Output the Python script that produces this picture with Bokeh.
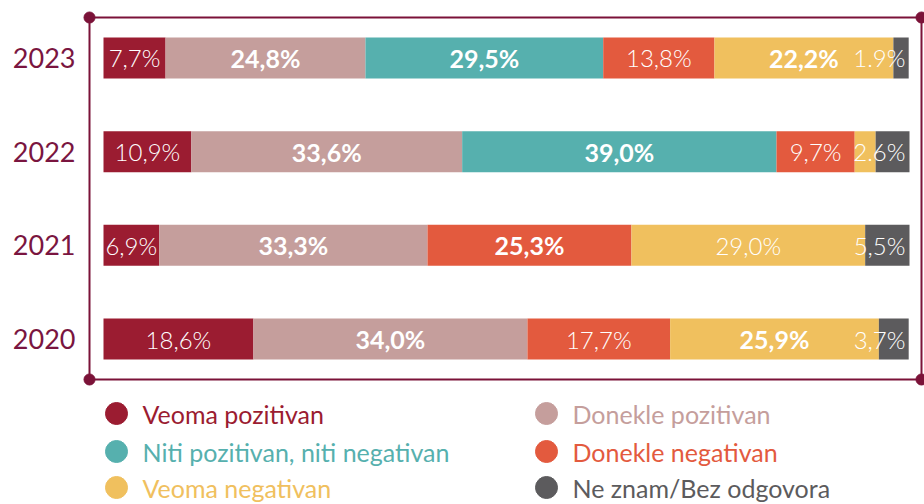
import numpy as np
from bokeh.plotting import figure
from bokeh.models import ColumnDataSource
from bokeh.core.properties import value
from bokeh.embed import file_html
from bokeh.resources import INLINE

# ---------------- data ----------------
years = ["2020", "2021", "2022", "2023"]
categories = ["Veoma pozitivan", "Donekle pozitivan", "Niti pozitivan, niti negativan",
              "Donekle negativan", "Veoma negativan", "Ne znam/Bez odgovora"]
veoma_pozitivan = [18.6, 6.9, 10.9, 7.7]
donekle_pozitivan = [34.0, 33.3, 33.6, 24.8]
niti = [0.0, 0.0, 39.0, 29.5]
donekle_negativan = [17.7, 25.3, 9.7, 13.8]
veoma_negativan = [25.9, 29.0, 2.6, 22.2]
ne_znam = [3.7, 5.5, 4.2, 1.9]
labels = {
    "2023": ["7,7%", "24,8%", "29,5%", "13,8%", "22,2%", "1.9%"],
    "2022": ["10,9%", "33,6%", "39,0%", "9,7%", "2.6%", ""],
    "2021": ["6,9%", "33,3%", "", "25,3%", "29,0%", "5,5%"],
    "2020": ["18,6%", "34,0%", "", "17,7%", "25,9%", "3,7%"],
}

# ---------------- styles ----------------
colors = ["#9b1c31", "#c59e9c", "#56b0ae", "#e35a3e", "#f0c05e", "#5c5b5d"]
bold = {
    "2023": [False, True, True, False, True, False],
    "2022": [False, True, True, False, False, False],
    "2021": [False, True, False, True, False, False],
    "2020": [False, True, False, False, True, False],
}
frame_col = "#7b1238"
FONT = "Lato"
FONT_LIGHT = "Lato Light"

W, H = 924, 504
X0, PXU = 103.0, 8.06          # screen x of 0 %, px per %
Y0, PYU = 165.5, 93.67        # screen y (from bottom) of first row, px per row

def dx(px):
    return (px - X0) / PXU

def dy(py_top):
    return ((H - py_top) - Y0) / PYU

p = figure(width=W, height=H, output_backend="svg", toolbar_location=None,
           x_range=(dx(0), dx(W)), y_range=(dy(H), dy(0)),
           min_border=0, outline_line_color=None)
p.axis.visible = False
p.grid.visible = False
p.background_fill_color = "white"
p.border_fill_color = "white"

series = [veoma_pozitivan, donekle_pozitivan, niti, donekle_negativan, veoma_negativan, ne_znam]
vals = np.array(series)            # (6, 4)
rights = np.cumsum(vals, axis=0)
lefts = rights - vals
ypos = np.arange(len(years))

# frame
fx0, fx1 = dx(89), dx(921)
fy0, fy1 = dy(379), dy(17)
for xs, ys in [([fx0, fx1], [fy1, fy1]), ([fx0, fx1], [fy0, fy0]),
               ([fx0, fx0], [fy0, fy1]), ([fx1, fx1], [fy0, fy1])]:
    p.line(xs, ys, line_color=frame_col, line_width=2)
p.scatter([fx0, fx1, fx0, fx1], [fy1, fy1, fy0, fy0], size=11, color=frame_col)

bar_h = 41 / PYU
for k in range(len(categories)):
    src = ColumnDataSource(dict(y=ypos, left=lefts[k], right=rights[k]))
    p.hbar(y="y", left="left", right="right", height=bar_h, source=src,
           fill_color=colors[k], line_color=None)

# value labels
for i, yr in enumerate(years):
    for k in range(len(categories)):
        t = labels[yr][k]
        if not t or vals[k, i] == 0:
            continue
        if k == 5 or (k == 4 and vals[k, i] < 4):
            x = 99.5
            align = "right"
        else:
            x = (lefts[k, i] + rights[k, i]) / 2
            align = "center"
        b = bold[yr][k]
        p.text([x], [i], text=[t], text_align=align, text_baseline="middle",
               text_color="white", text_font_size="25px" if b else "24px",
               text_font=value(FONT if b else FONT_LIGHT),
               text_font_style="bold" if b else "normal")

# year labels
p.text([dx(75)] * len(years), ypos, text=years, text_align="right",
       text_baseline="middle", text_color="#7a1540", text_font_size="27px",
       text_font=value(FONT))

# legend
leg_x = [dx(116), dx(546)]
leg_tx = [dx(142), dx(572)]
leg_y = [dy(413), dy(451), dy(487)]
for k, name in enumerate(categories):
    col = k % 2
    row = k // 2
    p.scatter([leg_x[col]], [leg_y[row]], size=22, color=colors[k])
    p.text([leg_tx[col]], [leg_y[row]], text=[name], text_align="left",
           text_baseline="middle", text_color=colors[k], text_font_size="25px",
           text_font=value(FONT))

open("out.html", "w").write(file_html(p, INLINE))
